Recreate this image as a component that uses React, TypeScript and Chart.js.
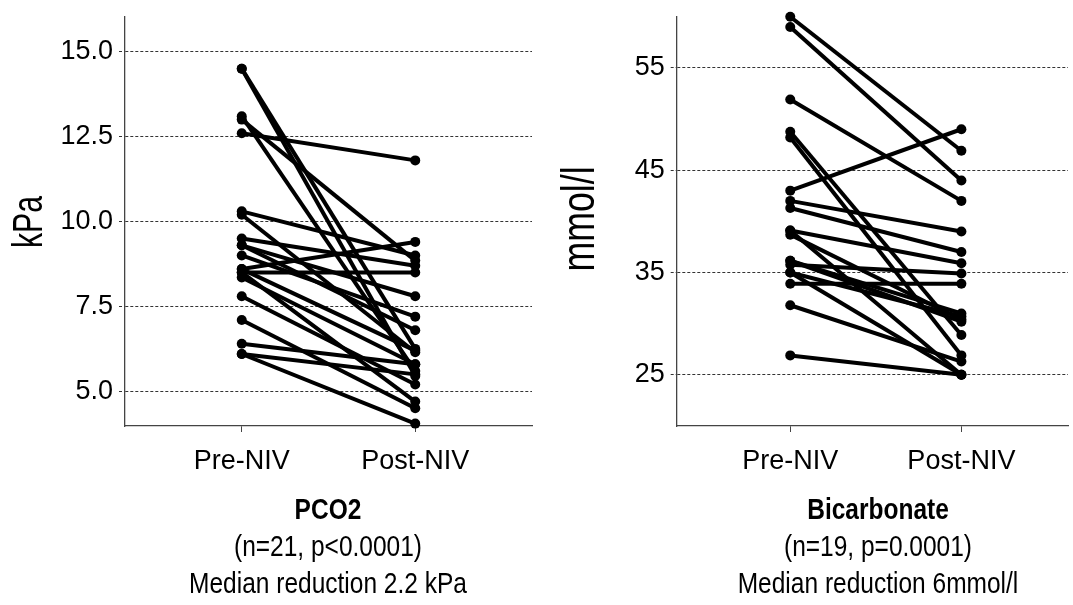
import React, { useEffect, useRef } from "react";
import { Chart, registerables } from "chart.js";

Chart.register(...registerables);

// ---- Data ----
const categories = ["Pre-NIV", "Post-NIV"];

const pco2Pre = [14.5, 14.5, 13.1, 13.0, 12.6, 10.3, 10.2, 9.5, 9.3, 9.3, 9.0, 8.6, 8.6, 8.5, 8.5, 8.35, 7.8, 7.1, 6.4, 6.1, 6.1];
const pco2Post = [6.25, 5.45, 5.6, 8.85, 11.8, 9.0, 6.15, 8.7, 7.8, 6.8, 7.2, 9.4, 6.2, 8.5, 4.7, 5.8, 5.2, 4.5, 5.8, 5.5, 4.05];
const pco2Ticks = [5, 7.5, 10, 12.5, 15];

const bicPre = [60.0, 59.0, 51.9, 48.75, 48.2, 43.0, 42.0, 41.3, 39.1, 39.1, 38.7, 36.15, 36.15, 35.75, 35.0, 35.0, 33.9, 31.8, 26.9];
const bicPost = [46.9, 44.0, 42.0, 28.9, 26.9, 49.0, 39.0, 37.0, 35.9, 25.0, 30.4, 31.0, 30.2, 34.9, 30.7, 25.0, 33.9, 26.3, 25.0];
const bicTicks = [25, 35, 45, 55];

const FONT = "'Liberation Sans', Arial, sans-serif";

type PanelCfg = {
  pre: number[];
  post: number[];
  yMin: number;
  yMax: number;
  yTicks: number[];
  decimals: number;
  yAxisWidth: number;
  xMin: number;
  xMax: number;
  padRight: number;
};

function Panel({ cfg, width }: { cfg: PanelCfg; width: number }) {
  const ref = useRef<HTMLCanvasElement | null>(null);
  useEffect(() => {
    if (!ref.current) return;
    const datasets = cfg.pre.map((v, i) => ({
      data: [
        { x: 0, y: v },
        { x: 1, y: cfg.post[i] },
      ],
      borderColor: "#000",
      backgroundColor: "#000",
      borderWidth: 4,
      pointRadius: 5,
      pointBorderWidth: 0,
      pointBackgroundColor: "#000",
      clip: false as any,
    }));
    const chart = new Chart(ref.current, {
      type: "line",
      data: { datasets },
      options: {
        animation: false,
        responsive: false,
        maintainAspectRatio: false,
        layout: { padding: { top: 16.7, right: cfg.padRight, left: 0, bottom: 0 } },
        plugins: { legend: { display: false }, tooltip: { enabled: false } },
        scales: {
          x: {
            type: "linear",
            min: cfg.xMin,
            max: cfg.xMax,
            afterBuildTicks: (s: any) => {
              s.ticks = [{ value: 0 }, { value: 1 }];
            },
            afterFit: (s: any) => {
              s.height = 605 - 426;
              s.paddingLeft = 0;
              s.paddingRight = 0;
            },
            ticks: {
              callback: (v: any) => categories[Number(v)] ?? "",
              color: "#000",
              font: { family: FONT, size: 27 },
              padding: 13,
              maxRotation: 0,
              autoSkip: false,
            },
            grid: {
              drawOnChartArea: false,
              drawTicks: true,
              tickLength: 6,
              color: "#444",
            },
            border: { display: true, color: "#444", width: 1.3 },
          },
          y: {
            type: "linear",
            min: cfg.yMin,
            max: cfg.yMax,
            afterBuildTicks: (s: any) => {
              s.ticks = cfg.yTicks.map((v) => ({ value: v }));
            },
            afterFit: (s: any) => {
              s.width = cfg.yAxisWidth;
              s.paddingTop = 0;
              s.paddingBottom = 0;
            },
            ticks: {
              callback: (v: any) => Number(v).toFixed(cfg.decimals),
              color: "#000",
              font: { family: FONT, size: 27 },
              padding: 6,
            },
            grid: {
              color: "#333",
              lineWidth: 1,
              tickLength: 6,
              tickBorderDash: [3, 2],
            },
            border: { display: true, color: "#444", width: 1.3, dash: [3, 2] },
          },
        },
      },
    });
    return () => chart.destroy();
  }, [cfg]);
  return <canvas ref={ref} width={width} height={605} style={{ width, height: 605, display: "block" }} />;
}

const leftCfg: PanelCfg = {
  pre: pco2Pre,
  post: pco2Post,
  yMin: 3.98,
  yMax: 16.03,
  yTicks: pco2Ticks,
  decimals: 1,
  yAxisWidth: 125,
  xMin: -0.673,
  xMax: 1.673,
  padRight: 13,
};

const rightCfg: PanelCfg = {
  pre: bicPre,
  post: bicPost,
  yMin: 20,
  yMax: 60,
  yTicks: bicTicks,
  decimals: 0,
  yAxisWidth: 131.7,
  xMin: -0.6636,
  xMax: 1.623,
  padRight: 0,
};

const titleStyle = (cx: number): React.CSSProperties => ({
  position: "absolute",
  left: cx - 250,
  width: 500,
  top: 491,
  textAlign: "center",
  fontFamily: FONT,
  fontSize: 29,
  lineHeight: "37px",
  color: "#000",
  transform: "scaleX(0.845)",
  transformOrigin: "50% 50%",
});

const yTitleStyle = (cx: number, cy: number, size: number, sx: number): React.CSSProperties => ({
  position: "absolute",
  left: cx - 100,
  top: cy - 30,
  width: 200,
  height: 60,
  lineHeight: "60px",
  textAlign: "center",
  fontFamily: FONT,
  fontSize: size,
  color: "#000",
  transform: `rotate(-90deg) scaleX(${sx})`,
  transformOrigin: "50% 50%",
});

export default function App() {
  useEffect(() => {
    document.body.style.margin = "0";
  }, []);
  return (
    <div style={{ position: "absolute", left: 0, top: 0, width: 1073, height: 605, background: "#fff", overflow: "hidden" }}>
      <div style={{ position: "absolute", left: 0, top: 0 }}>
        <Panel cfg={leftCfg} width={545} />
      </div>
      <div style={{ position: "absolute", left: 545, top: 0 }}>
        <Panel cfg={rightCfg} width={528} />
      </div>
      <div style={yTitleStyle(28, 222, 42, 0.72)}>kPa</div>
      <div style={yTitleStyle(578, 219, 47, 0.76)}>mmol/l</div>
      <div style={titleStyle(328)}>
        <div style={{ fontWeight: "bold" }}>PCO2</div>
        <div>(n=21, p&lt;0.0001)</div>
        <div>Median reduction 2.2 kPa</div>
      </div>
      <div style={titleStyle(878)}>
        <div style={{ fontWeight: "bold" }}>Bicarbonate</div>
        <div>(n=19, p=0.0001)</div>
        <div>Median reduction 6mmol/l</div>
      </div>
    </div>
  );
}
